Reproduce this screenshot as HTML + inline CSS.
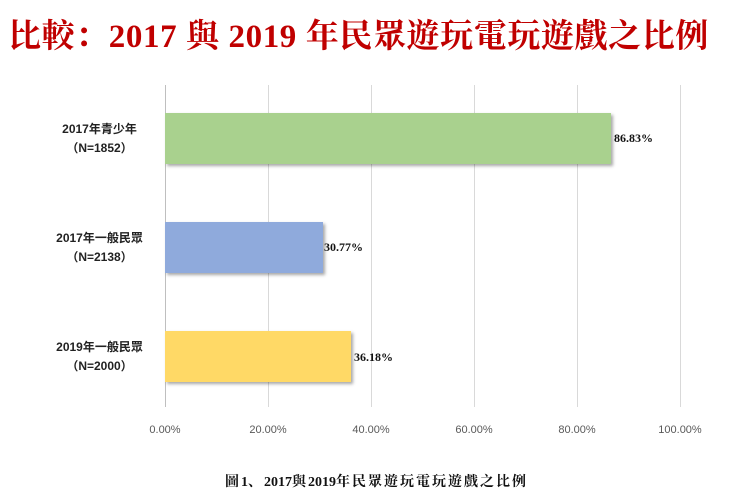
<!DOCTYPE html>
<html><head><meta charset="utf-8"><style>
body{margin:0;width:753px;height:500px;background:#fff;position:relative;overflow:hidden;font-family:"Liberation Serif","Noto Serif CJK SC",serif}
.t{position:absolute;left:8px;top:10px;color:#c00000;font-weight:bold;font-size:33px;white-space:nowrap;letter-spacing:0.6px}
.g{position:absolute;top:85px;height:322px;width:1px;background:#d9d9d9}
.bar{position:absolute;left:165px;height:51px;box-shadow:2px 2px 3px rgba(0,0,0,0.35)}
.lab{position:absolute;width:115px;left:42px;text-align:center;font-family:"Liberation Sans","Noto Sans CJK TC",sans-serif;font-size:12px;line-height:19px;font-weight:bold;color:#222}
.v{position:absolute;font-size:12px;font-weight:bold;color:#111}
.x{position:absolute;top:424px;width:60px;margin-left:-30px;text-align:center;font-family:"Liberation Sans",sans-serif;font-size:11px;color:#595959}
.c{position:absolute;top:471px;left:0;width:753px;text-align:center;font-size:14px;font-weight:bold;color:#111;letter-spacing:2px}
.c span{letter-spacing:0}
</style></head><body>
<div class="t">比較：2017 與 2019 年民眾遊玩電玩遊戲之比例</div>
<div class="g" style="left:165px;background:#bfbfbf"></div>
<div class="g" style="left:268px"></div>
<div class="g" style="left:371px"></div>
<div class="g" style="left:474px"></div>
<div class="g" style="left:577px"></div>
<div class="g" style="left:680px"></div>
<div class="bar" style="top:113px;width:446px;background:#a9d18e"></div>
<div class="bar" style="top:222px;width:158px;background:#8faadc"></div>
<div class="bar" style="top:331px;width:186px;background:#ffd966"></div>
<div class="v" style="left:614px;top:131px">86.83%</div>
<div class="v" style="left:324px;top:240px">30.77%</div>
<div class="v" style="left:354px;top:350px">36.18%</div>
<div class="lab" style="top:120px">2017年青少年<br>（N=1852）</div>
<div class="lab" style="top:229px">2017年一般民眾<br>（N=2138）</div>
<div class="lab" style="top:338px">2019年一般民眾<br>（N=2000）</div>
<div class="x" style="left:165px">0.00%</div>
<div class="x" style="left:268px">20.00%</div>
<div class="x" style="left:371px">40.00%</div>
<div class="x" style="left:474px">60.00%</div>
<div class="x" style="left:577px">80.00%</div>
<div class="x" style="left:680px">100.00%</div>
<div class="c">圖<span>1</span>、<span>2017</span>與<span>2019</span>年民眾遊玩電玩遊戲之比例</div>
</body></html>
